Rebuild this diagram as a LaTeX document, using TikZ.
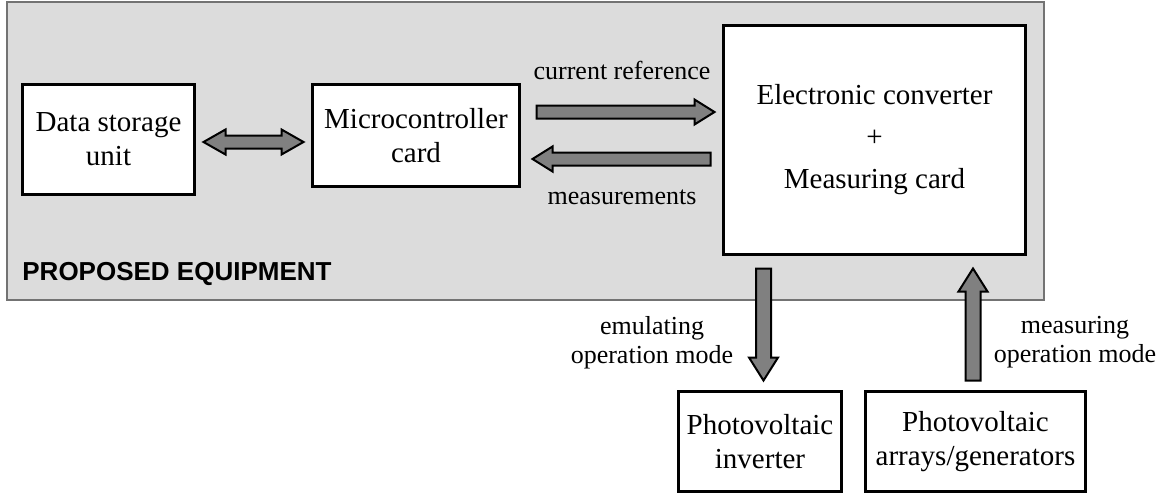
\documentclass[tikz,border=0pt]{standalone}
\usepackage{fontspec}
\setmainfont{Liberation Serif}
\newfontfamily\headfont{Liberation Sans}
\usetikzlibrary{calc, positioning}

\definecolor{panelgray}{gray}{0.863}
\definecolor{arrowgray}{gray}{0.5}

% block arrow from #1 to #2: #3 shaft half width, #4 head half width, #5 head length
\newcommand{\blockarrow}[5]{%
  \coordinate (ba-n) at ($(#2)!#5!(#1)$);
  \filldraw[blockarrow] ($(#1)!#3!90:(#2)$) -- ($(ba-n)!#3!90:(#2)$) -- ($(ba-n)!#4!90:(#2)$) -- (#2)
    -- ($(ba-n)!#4!-90:(#2)$) -- ($(ba-n)!#3!-90:(#2)$) -- ($(#1)!#3!-90:(#2)$) -- cycle;}
% same, with a head at both ends
\newcommand{\dblblockarrow}[5]{%
  \coordinate (ba-a) at ($(#1)!#5!(#2)$);
  \coordinate (ba-b) at ($(#2)!#5!(#1)$);
  \filldraw[blockarrow] (#1) -- ($(ba-a)!#4!90:(#2)$) -- ($(ba-a)!#3!90:(#2)$)
    -- ($(ba-b)!#3!-90:(#1)$) -- ($(ba-b)!#4!-90:(#1)$) -- (#2)
    -- ($(ba-b)!#4!90:(#1)$) -- ($(ba-b)!#3!90:(#1)$)
    -- ($(ba-a)!#3!-90:(#2)$) -- ($(ba-a)!#4!-90:(#2)$) -- cycle;}

\begin{document}
\begin{tikzpicture}[x=0.5pt, y=-0.5pt,
    box/.style={draw, line width=1.5pt, fill=white, align=center, inner sep=0pt,
      font=\fontsize{14.5}{17}\selectfont},
    note/.style={align=center, font=\fontsize{13}{14.5}\selectfont},
    blockarrow/.style={fill=arrowgray, draw=black, line width=1pt, line join=miter}
]
\useasboundingbox (0,0) rectangle (1166,494);

% equipment panel
\draw[fill=panelgray, draw=black!55, line width=0.6pt] (7,2) rectangle (1044,300);
\node[anchor=base west, inner sep=0pt, font=\headfont\bfseries\fontsize{13}{15}\selectfont] (title) at (22,280) {PROPOSED EQUIPMENT};

% blocks
\node[box, minimum width=86pt, minimum height=55pt] (store) at (108.5,139.5) {Data storage\\unit};
\node[box, minimum width=103.5pt, minimum height=51pt] (mcu) at (416,135.5) {Microcontroller\\card};
\node[box, minimum width=151pt, minimum height=114.5pt] (conv) at (874.5,140) {Electronic converter\\[4pt]+\\[4pt]Measuring card};
\node[box, minimum width=81.5pt, minimum height=50pt] (inv) at (760,441.5) {Photovoltaic\\inverter};
\node[box, minimum width=110pt, minimum height=50pt] (gen) at (975.5,441.5) {Photovoltaic\\arrays/generators};

% arrow ends
\coordinate (dbl-a) at ($(store.east)+(7.5,2.5)$);
\coordinate (dbl-b) at ($(mcu.west |- dbl-a)+(-7.5,0)$);
\coordinate (ref-a) at ($(mcu.east)+(15.5,-23.5)$);
\coordinate (ref-b) at ($(conv.west |- ref-a)+(-7.5,0)$);
\coordinate (meas-b) at ($(mcu.east)+(11.5,23.5)$);
\coordinate (meas-a) at ($(conv.west |- meas-b)+(-11.5,0)$);
\coordinate (emu-a) at ($(inv.north |- conv.south)+(3.5,12.5)$);
\coordinate (emu-b) at ($(inv.north)+(3.5,-9.5)$);
\coordinate (mes-a) at ($(gen.north)+(-2.5,-9.5)$);
\coordinate (mes-b) at ($(gen.north |- conv.south)+(-2.5,12.5)$);

\dblblockarrow{dbl-a}{dbl-b}{3.25pt}{6.25pt}{11pt}
\blockarrow{ref-a}{ref-b}{3.25pt}{6.25pt}{10pt}
\blockarrow{meas-a}{meas-b}{3.25pt}{6.25pt}{10pt}
\blockarrow{emu-a}{emu-b}{3.75pt}{7.25pt}{11.5pt}
\blockarrow{mes-a}{mes-b}{3.75pt}{7.25pt}{11.5pt}

% labels
\node[note] (reflabel) at (622,70) {current reference};
\node[note] (measlabel) at (622,197) {measurements};
\node[note] (emulabel) at (652,342.5) {emulating\\operation mode};
\node[note] (meslabel) at (1075,342.5) {measuring\\operation mode};
\end{tikzpicture}
\end{document}
